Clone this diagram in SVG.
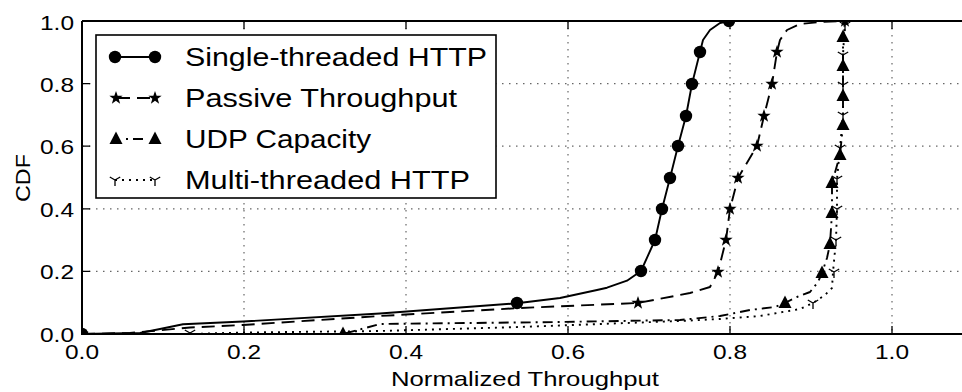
<svg xmlns="http://www.w3.org/2000/svg" xmlns:xlink="http://www.w3.org/1999/xlink" width="962" height="392" viewBox="0 0 962 392">
<style>
text{font-family:"Liberation Sans",Arial,sans-serif;fill:#000}
.tick{font-size:20px}
.lab{font-size:21px}
.leg{font-size:25px}
.grid{stroke:#666;stroke-width:1.2;stroke-dasharray:1.5,5.5;fill:none}
.tk{stroke:#000;stroke-width:1.3}
.c{fill:none;stroke:#000;stroke-width:1.9;stroke-linejoin:round}
.single{}
.passive{stroke-dasharray:13,7}
.udp{stroke-dasharray:10,5,2,5}
.multi{stroke-dasharray:2,5}
.yy{fill:none;stroke:#000;stroke-width:1.3}
</style>
<defs>
<clipPath id="plot"><rect x="82" y="21" width="891" height="313"/></clipPath>
<circle id="m-c" r="6.2" fill="#000"/>
<polygon id="m-s" fill="#000" points="0,-7 1.646,-2.265 6.657,-2.163 2.663,0.865 4.114,5.663 0,2.8 -4.114,5.663 -2.663,0.865 -6.657,-2.163 -1.646,-2.265"/>
<polygon id="m-t" fill="#000" points="0,-7.5 6.5,5 -6.5,5"/>
<path id="m-y" class="yy" d="M0,0V6M0,0L-5.2,-3M0,0L5.2,-3"/>
</defs>
<rect width="962" height="392" fill="#fff"/>
<g id="grid">
<path class="grid" d="M244,21V334M406,21V334M568,21V334M730,21V334M892,21V334"/>
<path class="grid" d="M82,271.4H973M82,208.8H973M82,146.2H973M82,83.6H973"/>
</g>
<g id="curves" clip-path="url(#plot)">
<g id="multi">
<polyline class="c multi" points="82,334 190,334 243,332.5 380,331 520,327 600,324 680,321 720,319 760,316 800,309 813,303 825,295 832,288 833,272 836,240 837,209 837,179 840,148 843,115 843,85 843,55 845,21 973,21"/>
<use xlink:href="#m-y" x="190" y="333"/>
<use xlink:href="#m-y" x="813" y="303"/>
<use xlink:href="#m-y" x="834" y="272"/>
<use xlink:href="#m-y" x="836" y="240"/>
<use xlink:href="#m-y" x="837" y="209"/>
<use xlink:href="#m-y" x="837" y="179"/>
<use xlink:href="#m-y" x="840" y="148"/>
<use xlink:href="#m-y" x="843" y="115"/>
<use xlink:href="#m-y" x="843" y="85"/>
<use xlink:href="#m-y" x="843" y="55"/>
<use xlink:href="#m-y" x="845" y="25"/>
</g>
<g id="udp">
<polyline class="c udp" points="82,334 343,334 380,324 560,322 680,320 720,316 750,310 775,307 785,303 797,297 810,292 818,282 822,273 827,258 830,244 832,213 832,183 840,155 843,125 843,96 843,66 843,37 845,21 973,21"/>
<use xlink:href="#m-t" x="82" y="334"/>
<use xlink:href="#m-t" x="343" y="334"/>
<use xlink:href="#m-t" x="785" y="303"/>
<use xlink:href="#m-t" x="822" y="273"/>
<use xlink:href="#m-t" x="830" y="244"/>
<use xlink:href="#m-t" x="832" y="213"/>
<use xlink:href="#m-t" x="832" y="183"/>
<use xlink:href="#m-t" x="840" y="155"/>
<use xlink:href="#m-t" x="843" y="125"/>
<use xlink:href="#m-t" x="843" y="96"/>
<use xlink:href="#m-t" x="843" y="66"/>
<use xlink:href="#m-t" x="843" y="37"/>
</g>
<g id="passive">
<polyline class="c passive" points="82,334 130,333 190,327.5 243,325 380,316 520,308 638,303 690,293 710,287 718,272 726,240 730,209 738,178 757,146 764,116 772,84 777,52 780,40 787,30 800,24 820,22 845,21 973,21"/>
<use xlink:href="#m-s" x="82" y="334"/>
<use xlink:href="#m-s" x="638" y="303"/>
<use xlink:href="#m-s" x="718" y="272"/>
<use xlink:href="#m-s" x="726" y="240"/>
<use xlink:href="#m-s" x="730" y="209"/>
<use xlink:href="#m-s" x="738" y="178"/>
<use xlink:href="#m-s" x="757" y="146"/>
<use xlink:href="#m-s" x="764" y="116"/>
<use xlink:href="#m-s" x="772" y="84"/>
<use xlink:href="#m-s" x="777" y="52"/>
<use xlink:href="#m-s" x="845" y="21"/>
</g>
<g id="single">
<polyline class="c single" points="82,334 110,333.5 140,333 160,329 183,324.3 243,321.5 380,313.5 517,303.3 560,298 597,290 607,287.7 627,280.7 641,271 655,240 662,209 670,178 678,146 686,116 692,84 700,52 703,40 710,30 720,23 729,21 973,21"/>
<use xlink:href="#m-c" x="82" y="334"/>
<use xlink:href="#m-c" x="517" y="303"/>
<use xlink:href="#m-c" x="641" y="271"/>
<use xlink:href="#m-c" x="655" y="240"/>
<use xlink:href="#m-c" x="662" y="209"/>
<use xlink:href="#m-c" x="670" y="178"/>
<use xlink:href="#m-c" x="678" y="146"/>
<use xlink:href="#m-c" x="686" y="116"/>
<use xlink:href="#m-c" x="692" y="84"/>
<use xlink:href="#m-c" x="700" y="52"/>
<use xlink:href="#m-c" x="729" y="21"/>
</g>
</g>
<g id="axes">
<path class="tk" d="M244,334V326M406,334V326M568,334V326M730,334V326M892,334V326M244,21V29M406,21V29M568,21V29M730,21V29M892,21V29"/>
<path class="tk" d="M82,271.4H90M82,208.8H90M82,146.2H90M82,83.6H90"/>
<path d="M82,21V334H973M82,21H973" fill="none" stroke="#000" stroke-width="2"/>
<g class="tick" text-anchor="middle">
<text x="82" y="359" textLength="34" lengthAdjust="spacingAndGlyphs">0.0</text>
<text x="244" y="359" textLength="34" lengthAdjust="spacingAndGlyphs">0.2</text>
<text x="406" y="359" textLength="34" lengthAdjust="spacingAndGlyphs">0.4</text>
<text x="568" y="359" textLength="34" lengthAdjust="spacingAndGlyphs">0.6</text>
<text x="730" y="359" textLength="34" lengthAdjust="spacingAndGlyphs">0.8</text>
<text x="892" y="359" textLength="34" lengthAdjust="spacingAndGlyphs">1.0</text>
</g>
<g class="tick">
<text x="40" y="342" textLength="34" lengthAdjust="spacingAndGlyphs">0.0</text>
<text x="40" y="279.4" textLength="34" lengthAdjust="spacingAndGlyphs">0.2</text>
<text x="40" y="216.8" textLength="34" lengthAdjust="spacingAndGlyphs">0.4</text>
<text x="40" y="154.2" textLength="34" lengthAdjust="spacingAndGlyphs">0.6</text>
<text x="40" y="91.6" textLength="34" lengthAdjust="spacingAndGlyphs">0.8</text>
<text x="40" y="29.5" textLength="34" lengthAdjust="spacingAndGlyphs">1.0</text>
</g>
<text class="lab" x="391" y="386" textLength="268" lengthAdjust="spacingAndGlyphs">Normalized Throughput</text>
<text class="lab" transform="translate(30,202) rotate(-90)" textLength="48" lengthAdjust="spacingAndGlyphs">CDF</text>
</g>
<g id="legend">
<rect x="96" y="35" width="400" height="163" fill="#fff" stroke="#000" stroke-width="1.6"/>
<g id="leg-single">
<line class="c single" x1="115" y1="57" x2="155" y2="57"/>
<use xlink:href="#m-c" x="115" y="57"/><use xlink:href="#m-c" x="155" y="57"/>
<text class="leg" x="185" y="65.5" textLength="302" lengthAdjust="spacingAndGlyphs">Single-threaded HTTP</text>
</g>
<g id="leg-passive">
<line class="c passive" x1="117" y1="98" x2="155" y2="98"/>
<use xlink:href="#m-s" x="116" y="98"/><use xlink:href="#m-s" x="155" y="98"/>
<text class="leg" x="185" y="106.5" textLength="272" lengthAdjust="spacingAndGlyphs">Passive Throughput</text>
</g>
<g id="leg-udp">
<line class="c udp" x1="116" y1="139" x2="155" y2="139" style="stroke-dasharray:0,10,2,5,10,20"/>
<use xlink:href="#m-t" x="116" y="139"/><use xlink:href="#m-t" x="155" y="139"/>
<text class="leg" x="185" y="147.5" textLength="186" lengthAdjust="spacingAndGlyphs">UDP Capacity</text>
</g>
<g id="leg-multi">
<line class="c multi" x1="115" y1="180" x2="155" y2="180"/>
<use xlink:href="#m-y" x="115" y="180"/><use xlink:href="#m-y" x="155" y="180"/>
<text class="leg" x="185" y="188.5" textLength="285" lengthAdjust="spacingAndGlyphs">Multi-threaded HTTP</text>
</g>
</g>
</svg>
